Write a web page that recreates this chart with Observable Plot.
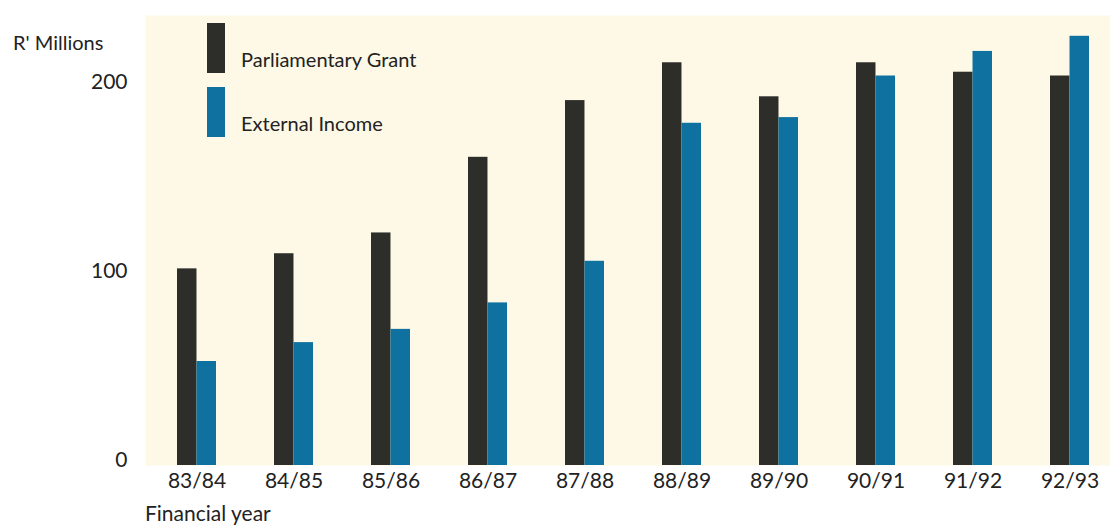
<!DOCTYPE html>
<html>
<head>
<meta charset="utf-8">
<script src="https://cdn.jsdelivr.net/npm/d3@7"></script>
<script src="https://cdn.jsdelivr.net/npm/@observablehq/plot@0.6"></script>
<style>
  html, body { margin: 0; padding: 0; background: #ffffff; }
  #chart svg { display: block; }
</style>
</head>
<body>
<div id="chart"></div>
<script>
const years = ["83/84","84/85","85/86","86/87","87/88","88/89","89/90","90/91","91/92","92/93"];
const parliamentaryGrant = [104, 112, 123, 163, 193, 213, 195, 213, 208, 206];
const externalIncome = [55, 65, 72, 86, 108, 181, 184, 206, 219, 227];
const seriesNames = ["Parliamentary Grant", "External Income"];
const seriesColors = ["#2d2e29", "#0e71a0"];
const yTicks = [0, 100, 200];

const data = [];
years.forEach((y, i) => {
  data.push({year: y, series: seriesNames[0], value: parliamentaryGrant[i]});
  data.push({year: y, series: seriesNames[1], value: externalIncome[i]});
});

const font = "Lato, 'Noto Sans', sans-serif";
const W = 1110, H = 527;
const mL = 145, mR = 0, mT = 15, mB = 62;

const bandStep = 97.6;
const half = bandStep * 0.4 / 2;

const plot = Plot.plot({
  width: W,
  height: H,
  marginLeft: mL,
  marginRight: mR,
  marginTop: mT,
  marginBottom: mB,
  style: {fontFamily: font, background: "#ffffff", color: "#222"},
  x: {domain: years, paddingInner: 0.6, paddingOuter: 0.24, align: 0.6, label: null},
  y: {domain: [0, 238], label: null},
  color: {domain: seriesNames, range: seriesColors},
  marks: [
    Plot.frame({fill: "#fdf9e6", stroke: null}),
    Plot.barY(data.filter(d => d.series === seriesNames[0]), {x: "year", y: "value", fill: "series", insetRight: half, insetLeft: 0}),
    Plot.barY(data.filter(d => d.series === seriesNames[1]), {x: "year", y: "value", fill: "series", insetLeft: half, insetRight: 0}),
    Plot.axisX({tickSize: 0, tickPadding: 8, fontSize: 21, label: null, fill: "#222"}),
    Plot.axisY({ticks: yTicks, tickSize: 0, tickPadding: 18, fontSize: 21, label: null, dy: -5, fill: "#222"})
  ]
});

document.getElementById("chart").appendChild(plot);

const svg = d3.select(plot);
// axis titles
svg.append("text").attr("x", 13).attr("y", 50).attr("font-size", 20).attr("font-family", font)
  .attr("text-anchor", "start").attr("fill", "#222").text("R' Millions");
svg.append("text").attr("x", 145).attr("y", 521).attr("font-size", 21).attr("font-family", font)
  .attr("text-anchor", "start").attr("fill", "#222").text("Financial year");

// legend
const legend = svg.append("g");
const legY = [23, 87];
seriesNames.forEach((name, i) => {
  legend.append("rect").attr("x", 207).attr("y", legY[i]).attr("width", 18).attr("height", 50)
    .attr("fill", seriesColors[i]);
  legend.append("text").attr("x", 241).attr("y", legY[i] + 44).attr("font-size", 20)
    .attr("font-family", font).attr("text-anchor", "start").attr("fill", "#222").text(name);
});
</script>
</body>
</html>
